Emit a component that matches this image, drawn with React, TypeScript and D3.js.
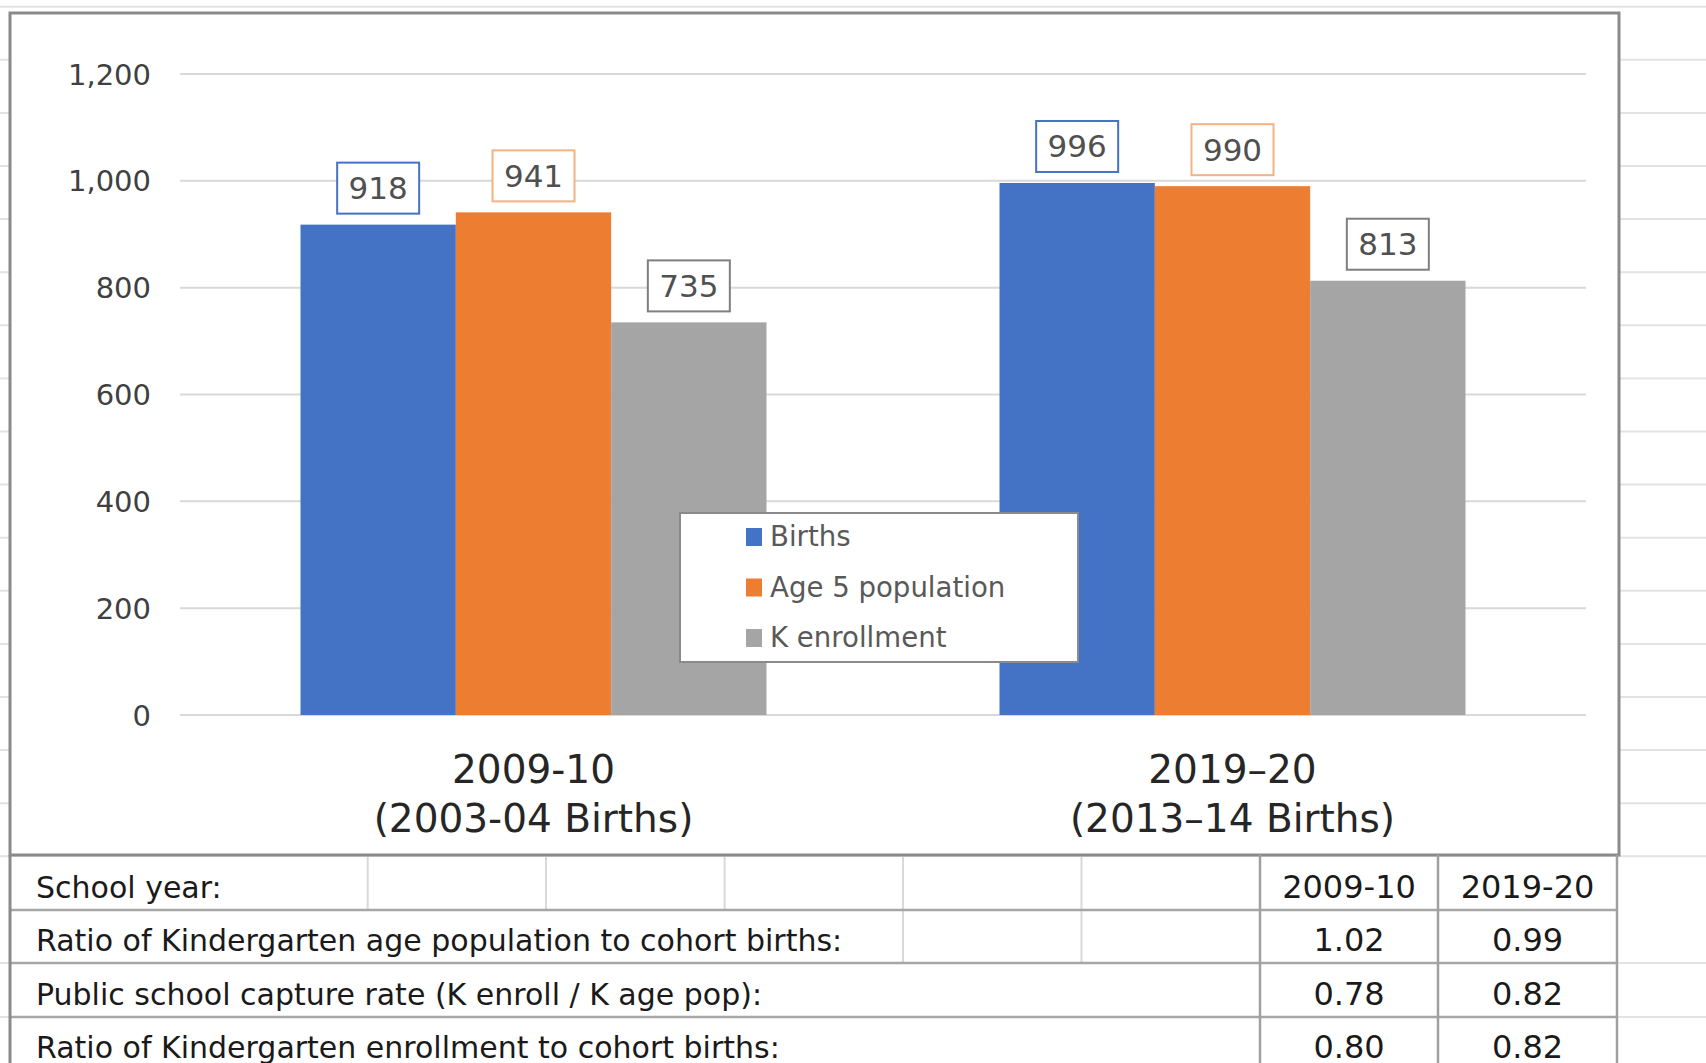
import React from "react";
import * as d3 from "d3";

const categoryYear = ["2009-10", "2019–20"];
const categoryBirths = ["(2003-04 Births)", "(2013–14 Births)"];
const seriesNames = ["Births", "Age 5 population", "K enrollment"];
const births = [918, 996];
const age5Population = [941, 990];
const kEnrollment = [735, 813];
const yTicks = [0, 200, 400, 600, 800, 1000, 1200];

const tableHeaderLabel = "School year:";
const tableYears = ["2009-10", "2019-20"];
const tableRowLabels = [
  "Ratio of Kindergarten age population to cohort births:",
  "Public school capture rate (K enroll / K age pop):",
  "Ratio of Kindergarten enrollment to cohort births:",
];
const ratios2009 = ["1.02", "0.78", "0.80"];
const ratios2019 = ["0.99", "0.82", "0.82"];

const seriesValues = [births, age5Population, kEnrollment];
const barColors = ["#4472C4", "#ED7D31", "#A5A5A5"];
const labelBorders = ["#4472C4", "#F4B183", "#7F7F7F"];

const W = 1706;
const H = 1063;
const FONT = "'DejaVu Sans', sans-serif";

export default function App() {
  const y = d3.scaleLinear().domain([0, 1200]).range([715, 74]);
  const x0 = d3
    .scaleBand<string>()
    .domain(categoryYear)
    .range([184, 1582])
    .paddingInner(1 / 3)
    .paddingOuter(1 / 6);
  const x1 = d3
    .scaleBand<string>()
    .domain(seriesNames)
    .range([0, x0.bandwidth()]);

  // spreadsheet background row lines
  const sheetRows = d3.range(0, 17).map((k) => 6.7 + k * 53.1).concat([963, 1017]);
  const tableRowLines = [910, 963, 1017];
  const tableTop = 855;
  const colLinesRow1 = [367.7, 546, 724.6, 903, 1081.5];
  const colLinesRow2 = [903, 1081.5];
  const darkCols = [1260, 1438, 1617];
  const colCenters = [(darkCols[0] + darkCols[1]) / 2, (darkCols[1] + darkCols[2]) / 2];
  const rowBottoms = [910, 963, 1017, 1070];

  return (
    <svg
      width={W}
      height={H}
      viewBox={`0 0 ${W} ${H}`}
      style={{ position: "absolute", left: 0, top: 0, background: "#fff" }}
      fontFamily={FONT}
    >
      <rect x={0} y={0} width={W} height={H} fill="#fff" />
      {/* spreadsheet gridlines */}
      {sheetRows.map((yy, i) => (
        <line key={"sr" + i} x1={0} x2={W} y1={yy} y2={yy} stroke="#e3e3e3" strokeWidth={2} />
      ))}

      {/* chart area */}
      <rect x={10} y={13} width={1609} height={842} fill="#fff" stroke="#8a8a8a" strokeWidth={3} />

      {/* gridlines */}
      {yTicks.map((t) => (
        <line key={"g" + t} x1={180} x2={1586} y1={y(t)} y2={y(t)} stroke="#d9d9d9" strokeWidth={2} />
      ))}
      {yTicks.map((t) => (
        <text
          key={"t" + t}
          x={151}
          y={y(t) + 10.5}
          textAnchor="end"
          fontSize={29}
          fill="#404040"
        >
          {d3.format(",")(t)}
        </text>
      ))}

      {/* bars */}
      {categoryYear.map((c, ci) => (
        <g key={"c" + c} transform={`translate(${x0(c)},0)`}>
          {seriesNames.map((s, si) => (
            <rect
              key={s}
              x={x1(s)}
              y={y(seriesValues[si][ci])}
              width={x1.bandwidth()}
              height={y(0) - y(seriesValues[si][ci])}
              fill={barColors[si]}
            />
          ))}
        </g>
      ))}

      {/* data labels */}
      {categoryYear.map((c, ci) =>
        seriesNames.map((s, si) => {
          const cx = (x0(c) as number) + (x1(s) as number) + x1.bandwidth() / 2;
          const top = y(seriesValues[si][ci]);
          const bh = 51;
          const bw = 82;
          const by = top - 11 - bh;
          return (
            <g key={"l" + c + s}>
              <rect
                x={cx - bw / 2}
                y={by}
                width={bw}
                height={bh}
                fill="#fff"
                stroke={labelBorders[si]}
                strokeWidth={2}
              />
              <text x={cx} y={by + bh / 2 + 11} textAnchor="middle" fontSize={31} fill="#505050">
                {seriesValues[si][ci]}
              </text>
            </g>
          );
        })
      )}

      {/* category labels */}
      {categoryYear.map((c, ci) => {
        const cx = (x0(c) as number) + x0.bandwidth() / 2;
        return (
          <g key={"cl" + c}>
            <text x={cx} y={y(0) + 68} textAnchor="middle" fontSize={39} fill="#262626">
              {c}
            </text>
            <text x={cx} y={y(0) + 117} textAnchor="middle" fontSize={39} fill="#262626">
              {categoryBirths[ci]}
            </text>
          </g>
        );
      })}

      {/* legend */}
      <rect x={680} y={513} width={398} height={149} fill="#fff" stroke="#8a8a8a" strokeWidth={2} />
      {seriesNames.map((s, i) => {
        const base = 546 + i * 50.5;
        return (
          <g key={"lg" + s}>
            <rect x={746} y={base - 18} width={16} height={18} fill={barColors[i]} />
            <text x={770} y={base} fontSize={27.6} fill="#595959">
              {s}
            </text>
          </g>
        );
      })}

      {/* table */}
      <rect x={10} y={tableTop + 2} width={1607} height={H - tableTop} fill="#fff" />
      {colLinesRow1.map((xx, i) => (
        <line key={"v1" + i} x1={xx} x2={xx} y1={tableTop + 2} y2={910} stroke="#d9d9d9" strokeWidth={2} />
      ))}
      {colLinesRow2.map((xx, i) => (
        <line key={"v2" + i} x1={xx} x2={xx} y1={910} y2={963} stroke="#d9d9d9" strokeWidth={2} />
      ))}
      {tableRowLines.map((yy, i) => (
        <line key={"h" + i} x1={10} x2={1617} y1={yy} y2={yy} stroke="#a6a6a6" strokeWidth={2.5} />
      ))}
      {darkCols.map((xx, i) => (
        <line key={"dv" + i} x1={xx} x2={xx} y1={tableTop} y2={H} stroke="#a0a0a0" strokeWidth={2.5} />
      ))}
      <line x1={10} x2={10} y1={tableTop} y2={H} stroke="#8a8a8a" strokeWidth={3} />

      <text x={36} y={rowBottoms[0] - 12} fontSize={30} fill="#1a1a1a">
        {tableHeaderLabel}
      </text>
      {tableYears.map((t, i) => (
        <text key={"ty" + i} x={colCenters[i]} y={rowBottoms[0] - 12} textAnchor="middle" fontSize={32} fill="#1a1a1a">
          {t}
        </text>
      ))}
      {tableRowLabels.map((lbl, i) => (
        <g key={"tr" + i}>
          <text x={36} y={rowBottoms[i + 1] - 12} fontSize={30} fill="#1a1a1a">
            {lbl}
          </text>
          <text x={colCenters[0]} y={rowBottoms[i + 1] - 12} textAnchor="middle" fontSize={32} fill="#1a1a1a">
            {ratios2009[i]}
          </text>
          <text x={colCenters[1]} y={rowBottoms[i + 1] - 12} textAnchor="middle" fontSize={32} fill="#1a1a1a">
            {ratios2019[i]}
          </text>
        </g>
      ))}
    </svg>
  );
}
